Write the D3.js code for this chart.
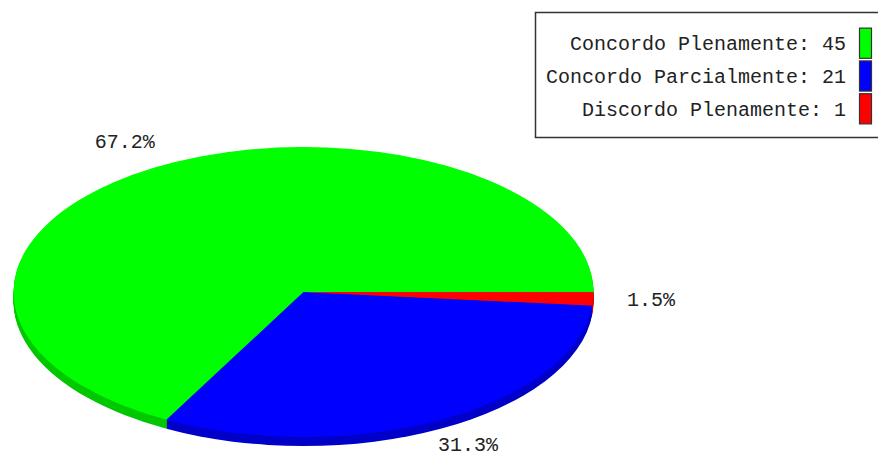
<!DOCTYPE html>
<html>
<head>
<meta charset="utf-8">
<script src="https://cdn.jsdelivr.net/npm/d3@7"></script>
<style>
  html, body { margin: 0; padding: 0; background: #fff; }
  svg { display: block; }
  text { font-family: "Liberation Mono", "DejaVu Sans Mono", monospace; fill: #222; }
</style>
</head>
<body>
<svg id="chart" width="878" height="458"></svg>
<script>
// ---- data ----
const categories = ["Concordo Plenamente", "Concordo Parcialmente", "Discordo Plenamente"];
const values = [45, 21, 1];

// ---- styles ----
const topColors = ["#00ff00", "#0000ff", "#ff0000"];
const sideColors = ["#00c800", "#0000c8", "#c80000"];

const W = 878, H = 458;
const cx = 303.5, cy = 292, rx = 290, ry = 145, depth = 9;

const svg = d3.select("#chart");
const total = d3.sum(values);
const fmt = d3.format(".1%");

// pie starting at 3 o'clock, going counter-clockwise
const pie = d3.pie().sort(null).value(d => d)
  .startAngle(Math.PI / 2).endAngle(Math.PI / 2 - 2 * Math.PI);
const arcs = pie(values).map((a, i) => Object.assign(a, { i }));
const arc = d3.arc().innerRadius(0).outerRadius(rx);

// side layers (3D depth)
d3.range(depth, 0, -1).forEach(off => {
  const g = svg.append("g")
    .attr("transform", `translate(${cx},${cy + off}) scale(1,${ry / rx})`);
  g.selectAll("path").data(arcs).join("path")
    .attr("d", arc)
    .attr("fill", d => sideColors[d.i]);
});

// top face
const gTop = svg.append("g")
  .attr("transform", `translate(${cx},${cy}) scale(1,${ry / rx})`);
gTop.selectAll("path").data(arcs).join("path")
  .attr("d", arc)
  .attr("fill", d => topColors[d.i]);

// percentage labels
const k = 1.2;
svg.append("g").selectAll("text").data(arcs).join("text")
  .attr("x", d => {
    const m = (d.startAngle + d.endAngle) / 2;
    return cx + Math.sin(m) * rx * k;
  })
  .attr("y", d => {
    const m = (d.startAngle + d.endAngle) / 2;
    return cy - Math.cos(m) * ry * k;
  })
  .attr("text-anchor", "middle")
  .attr("dominant-baseline", "central")
  .attr("font-size", 20)
  .text(d => fmt(d.value / total));

// legend
const legend = svg.append("g");
legend.append("rect")
  .attr("x", 535.5).attr("y", 12.5)
  .attr("width", 360).attr("height", 125)
  .attr("fill", "#fff").attr("stroke", "#333").attr("stroke-width", 1.5);

const rowY = d3.scaleBand().domain(d3.range(categories.length))
  .range([25, 126]).padding(0.08);

legend.selectAll("rect.sw").data(categories).join("rect")
  .attr("class", "sw")
  .attr("x", 859.5).attr("y", (d, i) => rowY(i) + 0.5)
  .attr("width", 12).attr("height", rowY.bandwidth())
  .attr("fill", (d, i) => topColors[i])
  .attr("stroke", "#333").attr("stroke-width", 1.2);

legend.selectAll("text").data(categories).join("text")
  .attr("x", 846)
  .attr("y", (d, i) => rowY(i) + rowY.bandwidth() / 2 + 2)
  .attr("text-anchor", "end")
  .attr("dominant-baseline", "central")
  .attr("font-size", 20)
  .text((d, i) => `${d}: ${values[i]}`);
</script>
</body>
</html>
